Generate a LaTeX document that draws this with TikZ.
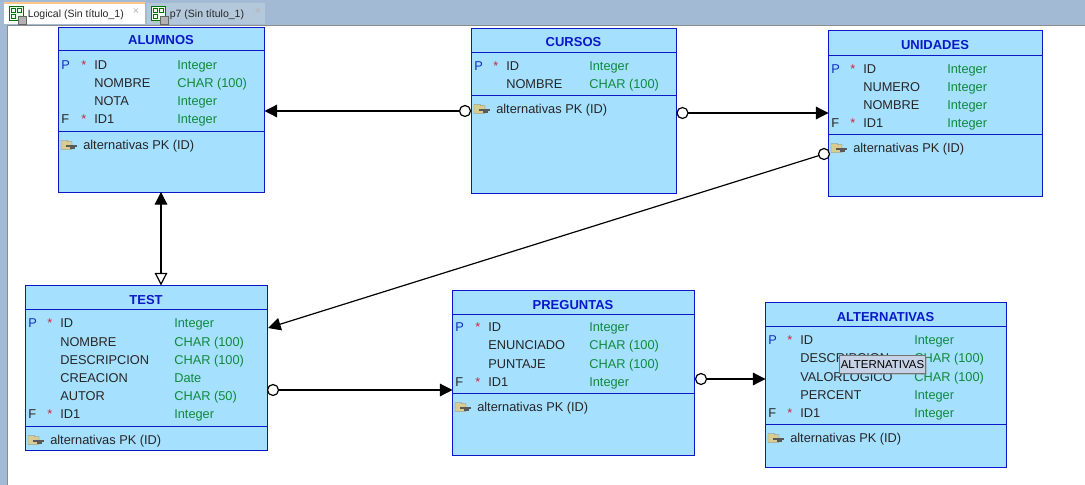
\documentclass[tikz,border=0pt]{standalone}
\usepackage{fontspec}
\setmainfont{Liberation Sans}
\usetikzlibrary{arrows.meta,shadows}
\definecolor{tablefill}{HTML}{A6E0FF}
\definecolor{tableblue}{HTML}{0A18C8}
\definecolor{keyblue}{HTML}{1030C0}
\definecolor{typegreen}{HTML}{0F8A3C}
\definecolor{starred}{HTML}{C8283C}
\definecolor{barblue}{HTML}{A2BAD4}
\definecolor{tabgrey}{HTML}{B4C8DC}
\definecolor{folder}{HTML}{D8CC90}
\definecolor{tipfill}{HTML}{C6D2E6}
\tikzset{
  x=0.75pt,y=-0.75pt,
  tablebox/.style={draw=tableblue,fill=tablefill,line width=0.9pt,anchor=north west,inner sep=0pt,outer sep=0pt},
  boxsize/.style 2 args={minimum width=#1*0.75pt,minimum height=#2*0.75pt},
  tablerule/.style={draw=tableblue,line width=0.85pt},
  tabletitle/.style={text=tableblue,font=\fontsize{9.75}{11}\selectfont\bfseries,anchor=base,inner sep=0pt},
  rowtext/.style={font=\fontsize{9.6}{11}\selectfont,text=black!85,anchor=base west,inner sep=0pt},
  typetext/.style={rowtext,text=typegreen},
  tabtext/.style={font=\fontsize{7.9}{10}\selectfont,text=black!85,anchor=base west,inner sep=0pt},
  closemark/.style={font=\fontsize{8}{10}\selectfont,text=black!30,inner sep=0pt},
  hollow/.style={circle,draw=black,fill=white,line width=0.9pt,minimum size=8.25pt,inner sep=0pt,outer sep=0pt},
  link/.style={draw=black,line width=0.9pt},
  tip/.style={-{Triangle[length=9.5pt,width=9.5pt,fill=black]}},
  keyicon/.pic={
    \fill[draw=black!50,line width=0.3pt,fill=folder] (0,-4) -- (6,-4) -- (7,-3) -- (11,-3) -- (11,5) -- (0,5) -- cycle;
    \fill[black!65] (5,0) rectangle (16,2);
    \fill[black!65] (9,2) rectangle (14,4);
  },
  dbicon/.pic={
    \fill[draw=green!45!black,line width=0.5pt,fill=green!8] (0,0) rectangle (14,14);
    \draw[green!45!black,line width=0.5pt] (2,2) rectangle (6,6) (8,2) rectangle (12,6) (2,8) rectangle (6,12);
    \fill[draw=black!60,line width=0.3pt,fill=black!30] (9,10) rectangle (17,18);
  },
}
\newcommand{\pkmark}{\textcolor{keyblue}{P}}
% one table: name, x, y, width, height, title, y of first rule, y of second rule
\newcommand{\entity}[8]{
  \node[tablebox,boxsize={#4}{#5}] (#1) at ({#2+.5},{#3+.5}) {};
  \node[tabletitle] (#1title) at ({#2+#4/2},{#7-5}) {#6};
  \draw[tablerule] (#2,{#7+.5}) -- ({#2+#4},{#7+.5});
  \draw[tablerule] (#2,{#8+.5}) -- ({#2+#4},{#8+.5});
  \pic at ({#2+3},{#8+13.5}) {keyicon};
  \node[rowtext] (#1pk) at ({#2+25},{#8+18.5}) {alternativas PK (ID)};
}
% rows: table name, x of table, offset of name, offset of type, list
\newcommand{\rows}[5]{
  \foreach \k/\s/\n/\t/\y [count=\i] in {#5} {
    \node[rowtext] (#1k\i) at ({#2+3},{\y+5.5}) {\k};
    \node[rowtext,text=starred] (#1s\i) at ({#2+#3-13},{\y+5.5}) {\s};
    \node[rowtext] (#1n\i) at ({#2+#3},{\y+5.5}) {\n};
    \node[typetext] (#1t\i) at ({#2+#4},{\y+5.5}) {\t};
  }
}
\begin{document}
\begin{tikzpicture}
  \useasboundingbox (0,0) rectangle (1085,485);
  % window
  \fill[barblue] (0,0) rectangle (1085,485);
  \fill[white] (7,26) rectangle (1085,485);
  \draw[black!45,line width=0.5pt] (7,485) -- (7,25.5) -- (1085,25.5);
  \fill[white] (4,3) rectangle (145,24.5);
  \fill[orange!45] (4,2) rectangle (145,4.5);
  \fill[tabgrey] (147,3) rectangle (265,24.5);
  \pic at (9,6) {dbicon};
  \pic at (151,6) {dbicon};
  \node[tabtext] (tablogical) at (27.5,18) {Logical (Sin título\_1)};
  \node[tabtext] (tabpseven) at (169.5,18) {p7 (Sin título\_1)};
  \node[closemark] (closelogical) at (136,12) {×};
  \node[closemark] (closepseven) at (258,12) {×};

  \entity{alumnos}{58}{27}{206}{165}{ALUMNOS}{50}{131}
  \rows{alumnos}{58}{36}{119}{
    \pkmark/*/ID/Integer/64,
    //NOMBRE/CHAR (100)/82,
    //NOTA/Integer/100,
    F/*/ID1/Integer/118}

  \entity{cursos}{471}{28}{205}{165}{CURSOS}{52}{95}
  \rows{cursos}{471}{35}{118}{
    \pkmark/*/ID/Integer/65,
    //NOMBRE/CHAR (100)/83}

  \entity{unidades}{828}{30}{214}{166}{UNIDADES}{55}{134}
  \rows{unidades}{828}{35}{119}{
    \pkmark/*/ID/Integer/68,
    //NUMERO/Integer/86,
    //NOMBRE/Integer/104,
    F/*/ID1/Integer/122}

  \entity{test}{25}{285}{242}{165}{TEST}{309}{426}
  \rows{test}{25}{35}{149}{
    \pkmark/*/ID/Integer/322,
    //NOMBRE/CHAR (100)/341,
    //DESCRIPCION/CHAR (100)/359,
    //CREACION/Date/377,
    //AUTOR/CHAR (50)/395,
    F/*/ID1/Integer/413}

  \entity{preguntas}{452}{290}{242}{165}{PREGUNTAS}{314}{393}
  \rows{preguntas}{452}{36}{137}{
    \pkmark/*/ID/Integer/326,
    //ENUNCIADO/CHAR (100)/344,
    //PUNTAJE/CHAR (100)/363,
    F/*/ID1/Integer/381}

  \entity{alternativas}{765}{302}{241}{165}{ALTERNATIVAS}{326}{424}
  \rows{alternativas}{765}{35}{149}{
    \pkmark/*/ID/Integer/339,
    //DESCRIPCION/CHAR (100)/357,
    //VALORLOGICO/CHAR (100)/376,
    //PERCENT/Integer/394,
    F/*/ID1/Integer/412}

  % connectors
  \node[hollow] (cursosleft) at (465,111) {};
  \node[hollow] (cursosright) at (682.5,113) {};
  \node[hollow] (unidadesleft) at (824,154) {};
  \node[hollow] (testright) at (273,390) {};
  \node[hollow] (preguntasright) at (701,379) {};
  \coordinate (testin) at (268,328);
  \draw[link,tip] (cursosleft) -- (alumnos.east |- cursosleft);
  \draw[link,tip] (cursosright) -- (unidades.west |- cursosright);
  \draw[link,tip] (unidadesleft) -- (testin);
  \draw[link,tip] (testright) -- (preguntas.west |- testright);
  \draw[link,tip] (preguntasright) -- (alternativas.west |- preguntasright);
  \coordinate (alumnosout) at (161,192);
  \draw[link,{Triangle[length=9.5pt,width=9.5pt,fill=black]}-{Triangle[length=9.5pt,width=9.5pt,open,fill=white]}] (alumnosout) -- (alumnosout |- test.north);

  % tooltip
  \node[draw=black!55,fill=tipfill,drop shadow={shadow xshift=1pt,shadow yshift=-1pt,opacity=0.3},font=\fontsize{8.6}{10}\selectfont,text=black,inner sep=0pt,minimum width=64.5pt,minimum height=13.5pt,outer sep=0pt] (tooltip) at (882.5,364.5) {ALTERNATIVAS};
\end{tikzpicture}
\end{document}
